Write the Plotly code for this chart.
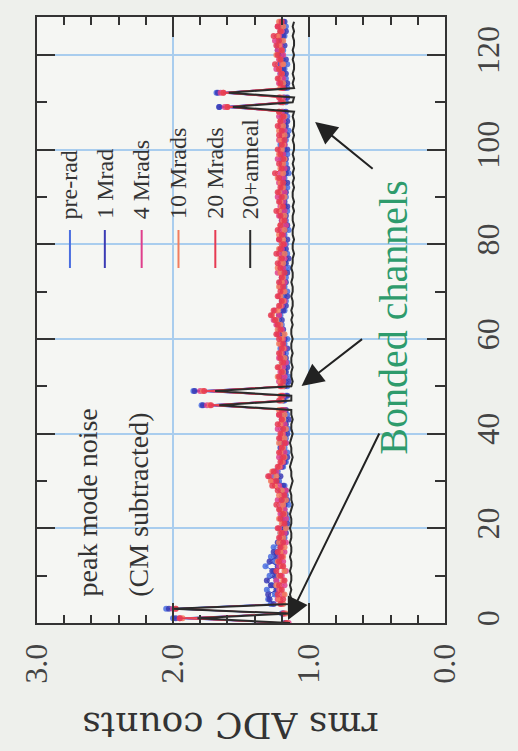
import plotly.graph_objects as go

channels = list(range(128))

pre_rad = [
    1.18, 2.00, 1.20, 2.05, 1.28, 1.30, 1.25, 1.31, 1.27, 1.24, 1.29, 1.26, 1.32, 1.25, 1.28, 1.22,
    1.26, 1.20, 1.18, 1.21, 1.17, 1.19, 1.16, 1.20, 1.18, 1.15, 1.19, 1.17, 1.21, 1.18, 1.22, 1.26,
    1.23, 1.19, 1.17, 1.20, 1.16, 1.18, 1.21, 1.17, 1.19, 1.15, 1.18, 1.20, 1.16, 1.19, 1.79, 1.18,
    1.17, 1.85, 1.16, 1.19, 1.15, 1.18, 1.20, 1.16, 1.19, 1.17, 1.21, 1.18, 1.16, 1.19, 1.22, 1.20,
    1.24, 1.21, 1.18, 1.20, 1.17, 1.19, 1.16, 1.18, 1.21, 1.17, 1.19, 1.15, 1.18, 1.20, 1.16, 1.19,
    1.17, 1.21, 1.18, 1.15, 1.19, 1.17, 1.20, 1.16, 1.18, 1.21, 1.17, 1.19, 1.16, 1.20, 1.18, 1.15,
    1.19, 1.17, 1.20, 1.16, 1.18, 1.21, 1.17, 1.19, 1.15, 1.18, 1.20, 1.16, 1.19, 1.66, 1.17, 1.18,
    1.68, 1.16, 1.19, 1.17, 1.21, 1.18, 1.16, 1.20, 1.22, 1.19, 1.23, 1.20, 1.18, 1.21, 1.17, 1.19,
]
one_mrad = [
    1.17, 1.98, 1.19, 2.03, 1.26, 1.29, 1.30, 1.24, 1.28, 1.31, 1.25, 1.27, 1.23, 1.29, 1.24, 1.26,
    1.21, 1.23, 1.19, 1.17, 1.20, 1.16, 1.19, 1.17, 1.21, 1.18, 1.16, 1.20, 1.17, 1.19, 1.24, 1.21,
    1.25, 1.20, 1.18, 1.16, 1.19, 1.21, 1.17, 1.20, 1.16, 1.19, 1.17, 1.15, 1.19, 1.17, 1.78, 1.19,
    1.16, 1.84, 1.18, 1.15, 1.19, 1.17, 1.16, 1.20, 1.17, 1.19, 1.16, 1.20, 1.18, 1.21, 1.19, 1.23,
    1.20, 1.22, 1.19, 1.17, 1.20, 1.16, 1.19, 1.21, 1.17, 1.20, 1.16, 1.19, 1.17, 1.15, 1.19, 1.17,
    1.20, 1.16, 1.19, 1.18, 1.16, 1.20, 1.17, 1.19, 1.16, 1.18, 1.20, 1.17, 1.19, 1.16, 1.19, 1.17,
    1.16, 1.20, 1.17, 1.19, 1.16, 1.18, 1.20, 1.16, 1.19, 1.17, 1.16, 1.20, 1.17, 1.66, 1.19, 1.16,
    1.67, 1.18, 1.16, 1.20, 1.17, 1.19, 1.21, 1.17, 1.20, 1.23, 1.18, 1.21, 1.19, 1.17, 1.20, 1.18,
]
four_mrads = [
    1.15, 1.95, 1.18, 2.00, 1.20, 1.23, 1.19, 1.22, 1.18, 1.24, 1.20, 1.17, 1.22, 1.19, 1.21, 1.18,
    1.20, 1.17, 1.21, 1.18, 1.22, 1.19, 1.17, 1.21, 1.18, 1.20, 1.23, 1.19, 1.17, 1.22, 1.27, 1.29,
    1.24, 1.21, 1.19, 1.22, 1.18, 1.20, 1.17, 1.21, 1.19, 1.23, 1.18, 1.20, 1.22, 1.18, 1.75, 1.21,
    1.19, 1.80, 1.20, 1.22, 1.18, 1.21, 1.19, 1.17, 1.22, 1.20, 1.18, 1.21, 1.19, 1.23, 1.20, 1.24,
    1.26, 1.22, 1.25, 1.20, 1.18, 1.22, 1.19, 1.21, 1.18, 1.20, 1.23, 1.19, 1.21, 1.18, 1.22, 1.20,
    1.18, 1.22, 1.19, 1.21, 1.17, 1.20, 1.22, 1.18, 1.21, 1.19, 1.23, 1.18, 1.20, 1.22, 1.19, 1.21,
    1.18, 1.20, 1.23, 1.19, 1.21, 1.18, 1.22, 1.20, 1.18, 1.21, 1.19, 1.22, 1.20, 1.62, 1.21, 1.19,
    1.65, 1.20, 1.22, 1.19, 1.21, 1.24, 1.20, 1.22, 1.19, 1.23, 1.21, 1.25, 1.22, 1.20, 1.23, 1.21,
]
ten_mrads = [
    1.16, 1.93, 1.17, 1.98, 1.19, 1.22, 1.18, 1.21, 1.24, 1.19, 1.22, 1.18, 1.20, 1.23, 1.19, 1.21,
    1.18, 1.22, 1.19, 1.21, 1.17, 1.20, 1.22, 1.18, 1.21, 1.19, 1.17, 1.22, 1.20, 1.25, 1.28, 1.24,
    1.27, 1.22, 1.20, 1.18, 1.21, 1.19, 1.22, 1.18, 1.20, 1.17, 1.21, 1.19, 1.18, 1.22, 1.73, 1.20,
    1.21, 1.78, 1.19, 1.21, 1.23, 1.19, 1.22, 1.20, 1.18, 1.21, 1.19, 1.22, 1.20, 1.18, 1.23, 1.21,
    1.24, 1.27, 1.23, 1.21, 1.19, 1.21, 1.18, 1.22, 1.20, 1.19, 1.21, 1.23, 1.19, 1.21, 1.18, 1.22,
    1.20, 1.19, 1.22, 1.18, 1.21, 1.19, 1.18, 1.22, 1.20, 1.21, 1.18, 1.22, 1.19, 1.21, 1.23, 1.19,
    1.21, 1.19, 1.18, 1.22, 1.20, 1.19, 1.21, 1.18, 1.22, 1.19, 1.21, 1.18, 1.22, 1.60, 1.19, 1.21,
    1.63, 1.21, 1.19, 1.22, 1.20, 1.22, 1.19, 1.21, 1.24, 1.20, 1.22, 1.19, 1.23, 1.21, 1.19, 1.22,
]
twenty_mrads = [
    1.17, 1.95, 1.19, 1.98, 1.21, 1.19, 1.23, 1.20, 1.22, 1.18, 1.21, 1.24, 1.19, 1.22, 1.20, 1.23,
    1.21, 1.19, 1.22, 1.20, 1.23, 1.18, 1.21, 1.19, 1.22, 1.24, 1.20, 1.18, 1.23, 1.27, 1.24, 1.30,
    1.26, 1.23, 1.21, 1.19, 1.22, 1.20, 1.18, 1.22, 1.21, 1.19, 1.23, 1.20, 1.22, 1.20, 1.72, 1.22,
    1.20, 1.77, 1.21, 1.19, 1.22, 1.20, 1.23, 1.19, 1.21, 1.22, 1.20, 1.19, 1.22, 1.24, 1.21, 1.23,
    1.25, 1.28, 1.26, 1.22, 1.20, 1.23, 1.21, 1.19, 1.22, 1.20, 1.18, 1.21, 1.23, 1.20, 1.24, 1.21,
    1.19, 1.22, 1.20, 1.23, 1.21, 1.18, 1.21, 1.24, 1.19, 1.22, 1.20, 1.23, 1.21, 1.19, 1.22, 1.25,
    1.20, 1.22, 1.19, 1.21, 1.23, 1.20, 1.18, 1.22, 1.20, 1.23, 1.21, 1.19, 1.22, 1.60, 1.20, 1.22,
    1.63, 1.19, 1.21, 1.23, 1.20, 1.22, 1.25, 1.21, 1.23, 1.20, 1.24, 1.22, 1.26, 1.21, 1.23, 1.20,
]
anneal = [
    1.14, 1.82, 1.14, 2.00, 1.14, 1.13, 1.14, 1.13, 1.14, 1.13, 1.13, 1.14, 1.13, 1.13, 1.14, 1.13,
    1.13, 1.14, 1.13, 1.13, 1.14, 1.13, 1.13, 1.14, 1.13, 1.12, 1.13, 1.13, 1.14, 1.13, 1.12, 1.13,
    1.13, 1.14, 1.13, 1.12, 1.13, 1.13, 1.14, 1.13, 1.12, 1.13, 1.13, 1.12, 1.13, 1.13, 1.66, 1.13,
    1.13, 1.69, 1.13, 1.12, 1.13, 1.13, 1.12, 1.13, 1.13, 1.12, 1.13, 1.13, 1.12, 1.13, 1.13, 1.12,
    1.13, 1.12, 1.13, 1.12, 1.12, 1.13, 1.12, 1.12, 1.13, 1.12, 1.12, 1.13, 1.12, 1.12, 1.11, 1.12,
    1.12, 1.11, 1.12, 1.12, 1.11, 1.12, 1.12, 1.11, 1.12, 1.11, 1.12, 1.12, 1.11, 1.12, 1.11, 1.12,
    1.11, 1.12, 1.11, 1.12, 1.11, 1.11, 1.12, 1.11, 1.12, 1.11, 1.11, 1.12, 1.11, 1.56, 1.12, 1.11,
    1.59, 1.11, 1.12, 1.11, 1.12, 1.11, 1.11, 1.12, 1.11, 1.12, 1.11, 1.11, 1.12, 1.11, 1.12, 1.11,
]

series_names = ["pre-rad", "1 Mrad", "4 Mrads", "10 Mrads", "20 Mrads", "20+anneal"]
series_values = [pre_rad, one_mrad, four_mrads, ten_mrads, twenty_mrads, anneal]
series_colors = ["#4a6ee0", "#3b3bb5", "#df3f8c", "#f27d5e", "#e63a52", "#2b2b2b"]

W, H = 518, 751
L, R, T, B = 37, 458, 17, 623

def pxx(x):
    return (x - L) / (R - L)

def pxy(y):
    return (B - y) / (B - T)

fig = go.Figure()
for name, vals, col in zip(series_names, series_values, series_colors):
    if name == "20+anneal":
        fig.add_trace(go.Scatter(x=vals, y=channels, mode="lines", name=name,
                                 line=dict(color=col, width=2)))
    else:
        fig.add_trace(go.Scatter(x=vals, y=channels, mode="lines+markers", name=name,
                                 line=dict(color=col, width=1),
                                 marker=dict(color=col, size=6, opacity=0.85)))

serif = "Liberation Serif"
txt = "#333333"
ann = []
leg_x = [71, 107, 145, 183, 221, 257]
for name, col, lx in zip(series_names, series_colors, leg_x):
    ann.append(dict(x=pxx(lx), y=pxy(221), xref="paper", yref="paper", text=name,
                    textangle=-90, showarrow=False, xanchor="center", yanchor="bottom",
                    font=dict(family=serif, size=24, color=txt)))
shapes = []
for col, lx in zip(series_colors, leg_x):
    shapes.append(dict(type="line", xref="paper", yref="paper", x0=pxx(lx), x1=pxx(lx),
                       y0=pxy(230), y1=pxy(268), line=dict(color=col, width=2)))

def label(x, y, text, angle, size, color=txt, family=serif):
    ann.append(dict(x=pxx(x), y=pxy(y), xref="paper", yref="paper", text=text,
                    textangle=angle, showarrow=False, xanchor="center", yanchor="middle",
                    font=dict(family=family, size=size, color=color)))

label(89, 502, "peak mode noise", -90, 28)
label(141, 505, "(CM subtracted)", -90, 28)
label(404, 318, "Bonded channels", -90, 40, color="#2e9b6c")
label(237, 726, "rms ADC counts", 180, 36, family="DejaVu Serif")

arrows = [((324, 122), (383, 170)), ((310, 386), (372, 338)), ((296, 620), (388, 432))]
for (hx, hy), (tx, ty) in arrows:
    ann.append(dict(x=pxx(hx), y=pxy(hy), xref="paper", yref="paper", text="",
                    showarrow=True, ax=tx - hx, ay=ty - hy, axref="pixel", ayref="pixel",
                    arrowhead=2, arrowsize=2.2, arrowwidth=2, arrowcolor="#222222"))

fig.update_layout(
    width=W, height=H,
    margin=dict(l=L, r=W - R, t=T, b=H - B),
    paper_bgcolor="#eef0ec", plot_bgcolor="#f5f6f3",
    showlegend=False,
    annotations=ann, shapes=shapes,
    font=dict(family=serif, color=txt),
)
fig.update_xaxes(range=[3.0, 0.0], dtick=1, tick0=0, tickformat=".1f", tickangle=-90,
                 ticks="inside", ticklen=20, tickwidth=2, tickcolor="#333",
                 showline=True, linecolor="#333", linewidth=2, mirror="ticks",
                 showgrid=True, gridcolor="#a9cdee", gridwidth=1.5, zeroline=False,
                 tickfont=dict(family=serif, size=32, color="#444"), ticklabelstandoff=6,
                 minor=dict(dtick=0.2, ticks="inside", ticklen=8, tickwidth=2, tickcolor="#333", showgrid=False))
fig.update_yaxes(range=[0, 128], dtick=20, tick0=0, side="right", tickangle=-90,
                 ticks="inside", ticklen=18, tickwidth=2, tickcolor="#333",
                 showline=True, linecolor="#333", linewidth=2, mirror="ticks",
                 showgrid=True, gridcolor="#a9cdee", gridwidth=1.5, zeroline=False,
                 tickfont=dict(family=serif, size=32, color="#444"), ticklabelstandoff=14,
                 minor=dict(dtick=10, ticks="inside", ticklen=10, tickwidth=2, tickcolor="#333", showgrid=False))

fig.write_html("out.html", config={"displayModeBar": False})
